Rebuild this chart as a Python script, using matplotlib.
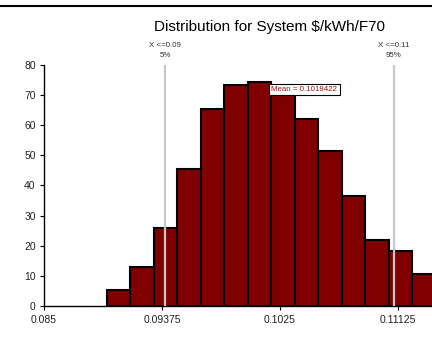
import numpy as np
import matplotlib.pyplot as plt
from matplotlib.lines import Line2D

plt.rcParams['font.family'] = ['Liberation Sans', 'DejaVu Sans']

# histogram of simulated $/kWh values
bin_edges = [0.08967, 0.09141, 0.09315, 0.09489, 0.09663, 0.09837, 0.10011,
             0.10185, 0.10359, 0.10533, 0.10707, 0.10881, 0.11055, 0.11229, 0.11403]
counts = [5.5, 13, 25.8, 45.3, 65.2, 73.3, 74.2, 73, 61.9, 51.3, 36.5, 22, 18.4, 10.8]

mean_val = 0.1018422
p5, p95 = 0.0940, 0.11095
p5_label = 'X <=0.09\n5%'
p95_label = 'X <=0.11\n95%'
xticks = [0.085, 0.09375, 0.1025, 0.11125]
yticks = [0, 10, 20, 30, 40, 50, 60, 70, 80]

fig = plt.figure(figsize=(4.32, 3.57), dpi=100)
ax = fig.add_axes([0.102, 0.142, 0.898, 0.677])

widths = np.diff(bin_edges)
ax.bar(bin_edges[:-1], counts, width=widths, align='edge',
       color='#800000', edgecolor='black', linewidth=1.5, zorder=2)

for xv, lab in [(p5, p5_label), (p95, p95_label)]:
    ax.axvline(xv, color='#c8c8c8', linewidth=1.6, zorder=3)
    ax.text(xv, 82.0, lab, ha='center', va='bottom', fontsize=5.7,
            linespacing=1.5, color='#333333')

ax.text(mean_val, 71.8, 'Mean = 0.1018422', fontsize=5.7, color='#a01010',
        ha='left', va='center', zorder=5,
        bbox=dict(boxstyle='square,pad=0.3', facecolor='white',
                  edgecolor='black', linewidth=0.8))

ax.set_xlim(0.085, 0.11377)
ax.set_ylim(0, 80)
ax.set_xticks(xticks)
ax.set_xticklabels(['0.085', '0.09375', '0.1025', '0.11125'])
ax.set_yticks(yticks)
ax.tick_params(labelsize=7.5, length=3, width=0.8, colors='black',
               labelcolor='#222222', pad=3)
for side in ['top', 'right']:
    ax.spines[side].set_visible(False)
ax.spines['left'].set_linewidth(1.0)
ax.spines['bottom'].set_linewidth(1.0)

fig.suptitle('Distribution for System $/kWh/F70', x=0.625, y=0.945,
             fontsize=11)
fig.add_artist(Line2D([0, 1], [0.983, 0.983], color='black', linewidth=1.5))

fig.savefig('out.png', dpi=100)
